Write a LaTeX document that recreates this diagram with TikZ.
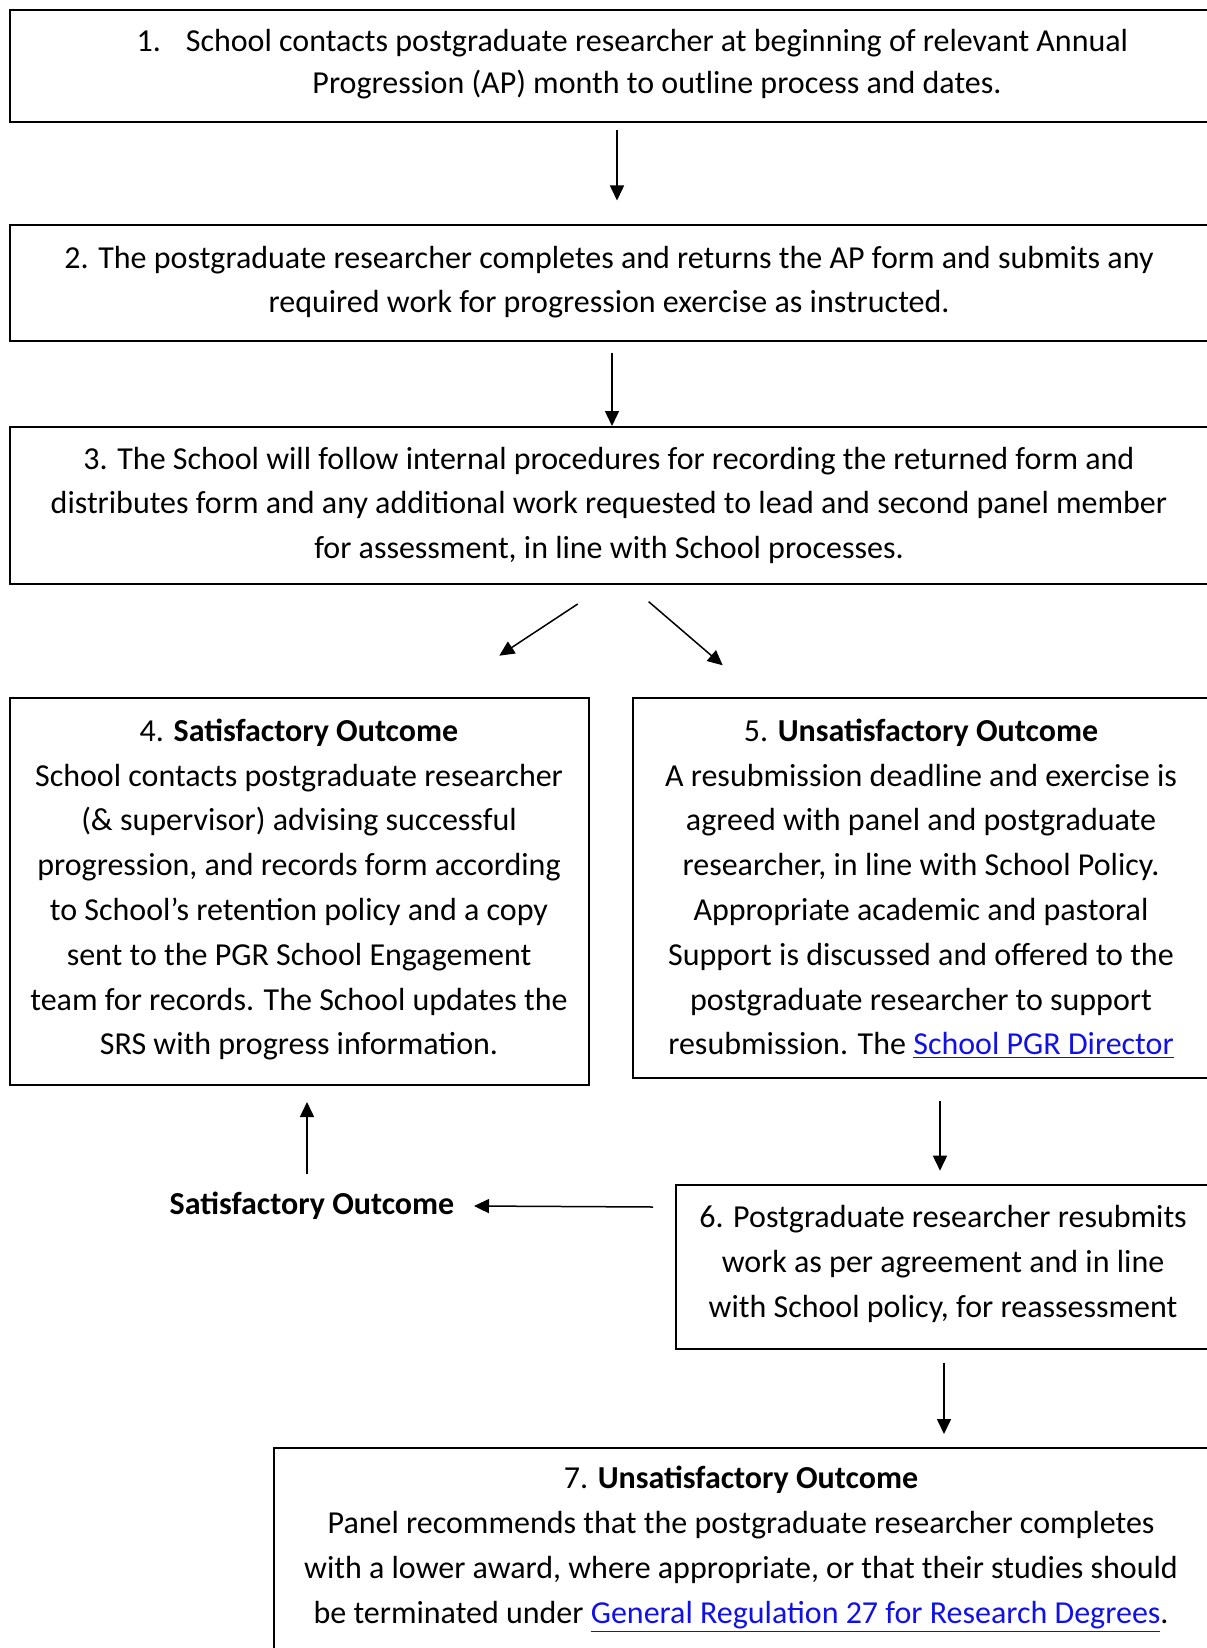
\documentclass[tikz,border=0pt]{standalone}
\usepackage{fontspec}
\setmainfont{Carlito}
\usetikzlibrary{arrows.meta}
\definecolor{linkblue}{RGB}{17,17,230}
\newcommand{\lnk}[1]{{\color{linkblue}\underline{#1}}}
\begin{document}
\begin{tikzpicture}[x=0.5pt,y=-0.5pt,
  box/.style={draw=black,line width=1pt,fill=none,inner sep=0pt},
  txt/.style={inner sep=0pt,align=center,anchor=base,font=\fontsize{16pt}{22.4pt}\selectfont},
  arr/.style={line width=0.75pt,-{Triangle[length=7.5pt,width=7pt]}}]
\useasboundingbox (0,0) rectangle (1206,1648);
% boxes
\node[box,minimum width=600.25pt,minimum height=55.75pt] (b1) at (609.75,66.25) {};
\node[box,minimum width=600.25pt,minimum height=57.8pt] (b2) at (609.75,282.8) {};
\node[box,minimum width=600.25pt,minimum height=78.25pt] (b3) at (609.75,505.25) {};
\node[box,minimum width=289.65pt,minimum height=193.5pt] (b4) at (299.15,891.5) {};
\node[box,minimum width=288.5pt,minimum height=189.85pt] (b5) at (921.5,887.85) {};
\node[box,minimum width=267pt,minimum height=82pt] (b6) at (943,1267) {};
\node[box,minimum width=467.8pt,minimum height=106.1pt] (b7) at (742.2,1553.9) {};
% texts (anchor=base is the baseline of the last line)
\node[txt,font=\fontsize{16pt}{21pt}\selectfont] (t1) at (657,93.5) {\llap{1.\hspace{12.5pt}}School contacts postgraduate researcher at beginning of relevant Annual\\Progression (AP) month to outline process and dates.};
\node[txt] (t2) at (609,313) {2. The postgraduate researcher completes and returns the AP form and submits any\\required work for progression exercise as instructed.};
\node[txt] (t3) at (609,558.6) {3. The School will follow internal procedures for recording the returned form and\\distributes form and any additional work requested to lead and second panel member\\for assessment, in line with School processes.};
\node[txt] (t4) at (299,1054.8) {4. \textbf{Satisfactory Outcome}\\School contacts postgraduate researcher\\(\& supervisor) advising successful\\progression, and records form according\\to School’s retention policy and a copy\\sent to the PGR School Engagement\\team for records. The School updates the\\SRS with progress information.};
\node[txt] (t5) at (921,1054.8) {5. \textbf{Unsatisfactory Outcome}\\A resubmission deadline and exercise is\\agreed with panel and postgraduate\\researcher, in line with School Policy.\\Appropriate academic and pastoral\\Support is discussed and offered to the\\postgraduate researcher to support\\resubmission. The \lnk{School PGR Director}};
\node[txt,font=\fontsize{16pt}{22.6pt}\selectfont] (t6) at (943,1317.4) {6. Postgraduate researcher resubmits\\work as per agreement and in line\\with School policy, for reassessment};
\node[txt,font=\fontsize{16pt}{22.5pt}\selectfont] (t7) at (741,1623.5) {7. \textbf{Unsatisfactory Outcome}\\Panel recommends that the postgraduate researcher completes\\with a lower award, where appropriate, or that their studies should\\be terminated under \lnk{General Regulation 27 for Research Degrees}.};
\node[txt] (sat) at (312,1214) {\textbf{Satisfactory Outcome}};
% arrow end points
\coordinate (a12s) at (617,130);   \coordinate (a12e) at (617,200.5);
\coordinate (a23s) at (612,353);   \coordinate (a23e) at (612,426);
\coordinate (a34s) at (577.7,604); \coordinate (a34e) at (499.3,655.7);
\coordinate (a35s) at (648.7,601.7); \coordinate (a35e) at (722.7,665.3);
\coordinate (a56s) at (940,1100.8); \coordinate (a56e) at (940,1170.7);
\coordinate (aups) at (307,1174.4); \coordinate (aupe) at (307,1102);
\coordinate (alfs) at (653,1207);  \coordinate (alfe) at (474,1206);
\coordinate (a67s) at (944,1362.6); \coordinate (a67e) at (944,1434);
\draw[arr] (a12s) -- (a12e);
\draw[arr] (a23s) -- (a23e);
\draw[arr] (a34s) -- (a34e);
\draw[arr] (a35s) -- (a35e);
\draw[arr] (a56s) -- (a56e);
\draw[arr] (aups) -- (aupe);
\draw[arr] (alfs) -- (alfe);
\draw[arr] (a67s) -- (a67e);
\end{tikzpicture}
\end{document}
